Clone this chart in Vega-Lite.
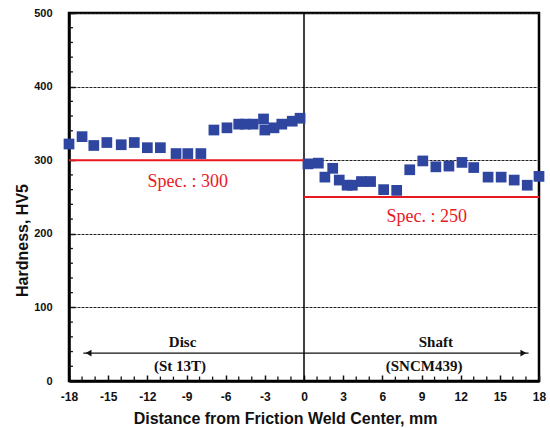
{
  "$schema": "https://vega.github.io/schema/vega-lite/v6.json",
  "width": 470,
  "height": 368,
  "autosize": "none",
  "padding": {"left": 69, "top": 13, "right": 11, "bottom": 47},
  "background": "white",
  "config": {
    "locale": {"number": {"decimal": ".", "thousands": ",", "grouping": [3], "currency": ["$", ""], "minus": "-"}},
    "view": {"stroke": "black", "strokeWidth": 2.5},
    "axis": {"labelFont": "Liberation Sans", "titleFont": "Liberation Sans", "labelFontWeight": "bold", "titleFontWeight": "bold", "labelColor": "#111", "titleColor": "#111", "grid": false}
  },
  "datasets": {
    "pts": [
      {"x": -18, "y": 322}, {"x": -17, "y": 332}, {"x": -16.1, "y": 320}, {"x": -15.1, "y": 324},
      {"x": -14, "y": 321}, {"x": -13, "y": 324}, {"x": -12, "y": 317}, {"x": -11, "y": 317},
      {"x": -9.8, "y": 309}, {"x": -8.9, "y": 309}, {"x": -7.9, "y": 309}, {"x": -6.9, "y": 341},
      {"x": -5.9, "y": 344}, {"x": -5, "y": 349}, {"x": -4.5, "y": 349}, {"x": -3.9, "y": 349},
      {"x": -3.1, "y": 356}, {"x": -3, "y": 341}, {"x": -2.3, "y": 344}, {"x": -1.7, "y": 349},
      {"x": -0.9, "y": 353}, {"x": -0.3, "y": 357},
      {"x": 0.3, "y": 295}, {"x": 1.1, "y": 296}, {"x": 1.6, "y": 277}, {"x": 2.2, "y": 289},
      {"x": 2.7, "y": 273}, {"x": 3.3, "y": 266}, {"x": 3.7, "y": 266}, {"x": 4.4, "y": 271},
      {"x": 5.1, "y": 271}, {"x": 6.1, "y": 260}, {"x": 7.1, "y": 259}, {"x": 8.1, "y": 287},
      {"x": 9.1, "y": 299}, {"x": 10.1, "y": 291}, {"x": 11.1, "y": 292}, {"x": 12.1, "y": 297},
      {"x": 13, "y": 290}, {"x": 14.1, "y": 277}, {"x": 15.1, "y": 277}, {"x": 16.1, "y": 273},
      {"x": 17.1, "y": 266}, {"x": 18, "y": 278}
    ],
    "spec": [
      {"x": -18, "x2": 0, "y": 300, "label": "Spec. : 300", "lx": -8.9, "ly": 270},
      {"x": 0, "x2": 18, "y": 250, "label": "Spec. : 250", "lx": 9.4, "ly": 223}
    ],
    "zero": [{"x": 0, "y": 0, "y2": 500}],
    "arrow": [{"x": -16.9, "x2": 17.2, "y": 38}],
    "heads": [{"x": -16.5, "y": 38, "shape": "triangle-left"}, {"x": 16.8, "y": 38, "shape": "triangle-right"}],
    "mat": [
      {"x": -9.3, "y": 53, "label": "Disc"},
      {"x": -9.5, "y": 21, "label": "(St 13T)"},
      {"x": 10.1, "y": 53, "label": "Shaft"},
      {"x": 9.2, "y": 21, "label": "(SNCM439)"}
    ],
    "minorx": [
      {"x": -17}, {"x": -16}, {"x": -14}, {"x": -13}, {"x": -11}, {"x": -10}, {"x": -8}, {"x": -7},
      {"x": -5}, {"x": -4}, {"x": -2}, {"x": -1}, {"x": 1}, {"x": 2}, {"x": 4}, {"x": 5},
      {"x": 7}, {"x": 8}, {"x": 10}, {"x": 11}, {"x": 13}, {"x": 14}, {"x": 16}, {"x": 17}
    ],
    "minory": [
      {"y": 20}, {"y": 40}, {"y": 60}, {"y": 80}, {"y": 120}, {"y": 140}, {"y": 160}, {"y": 180},
      {"y": 220}, {"y": 240}, {"y": 260}, {"y": 280}, {"y": 320}, {"y": 340}, {"y": 360}, {"y": 380},
      {"y": 420}, {"y": 440}, {"y": 460}, {"y": 480}
    ]
  },
  "resolve": {"axis": {"x": "independent", "y": "independent"}},
  "layer": [
    {
      "data": {"name": "zero"},
      "mark": {"type": "rule", "color": "black", "strokeWidth": 1.5},
      "encoding": {
        "x": {"field": "x", "type": "quantitative", "scale": {"domain": [-18, 18], "nice": false},
              "axis": {"orient": "bottom", "values": [-18,-15,-12,-9,-6,-3,0,3,6,9,12,15,18], "format": "d",
                       "title": "Distance from Friction Weld Center, mm", "titleFontSize": 16, "titleX": 216, "titleY": 42, "titleAlign": "center", "titleBaseline": "alphabetic",
                       "labelFontSize": 12, "labelPadding": 16, "labelFlush": false,
                       "tickSize": -6, "tickWidth": 1.5, "tickColor": "#111", "domainColor": "black", "domainWidth": 2.5}},
        "y": {"field": "y", "type": "quantitative", "scale": {"domain": [0, 500], "nice": false},
              "axis": {"orient": "left", "values": [0,100,200,300,400,500],
                       "title": "Hardness, HV5", "titleFontSize": 16, "titleX": -47, "titleY": 227, "titleAngle": -90, "titleBaseline": "middle", "titleAlign": "center",
                       "labelFontSize": 11, "labelPadding": 23, "labelFlush": false,
                       "tickSize": -6, "tickWidth": 1.5, "tickColor": "#111", "domainColor": "black", "domainWidth": 2.5,
                       "grid": true, "gridColor": "#222", "gridDash": [3, 1], "gridWidth": 1.2}},
        "y2": {"field": "y2"}
      }
    },
    {
      "data": {"name": "minorx"},
      "mark": {"type": "rule", "strokeWidth": 1.3, "color": "#111"},
      "encoding": {"x": {"field": "x", "type": "quantitative", "axis": null}, "y": {"datum": 0, "type": "quantitative", "axis": null}, "y2": {"datum": 6}}
    },
    {
      "data": {"name": "minory"},
      "mark": {"type": "rule", "strokeWidth": 1.3, "color": "#111"},
      "encoding": {"y": {"field": "y", "type": "quantitative", "axis": null}, "x": {"datum": -18, "type": "quantitative", "axis": null}, "x2": {"datum": -17.7}}
    },
    {
      "data": {"name": "pts"},
      "mark": {"type": "point", "shape": "square", "filled": true, "opacity": 1, "size": 115, "color": "#2f46a0"},
      "encoding": {"x": {"field": "x", "type": "quantitative", "axis": null}, "y": {"field": "y", "type": "quantitative", "axis": null}}
    },
    {
      "data": {"name": "spec"},
      "mark": {"type": "rule", "color": "#e8191f", "strokeWidth": 2},
      "encoding": {"x": {"field": "x", "type": "quantitative", "axis": null}, "x2": {"field": "x2"}, "y": {"field": "y", "type": "quantitative", "axis": null}}
    },
    {
      "data": {"name": "spec"},
      "mark": {"type": "text", "font": "Liberation Serif", "fontSize": 18, "color": "#e8191f", "baseline": "middle", "align": "center"},
      "encoding": {"x": {"field": "lx", "type": "quantitative", "axis": null}, "y": {"field": "ly", "type": "quantitative", "axis": null}, "text": {"field": "label"}}
    },
    {
      "data": {"name": "arrow"},
      "mark": {"type": "rule", "color": "#111", "strokeWidth": 1.2},
      "encoding": {"x": {"field": "x", "type": "quantitative", "axis": null}, "x2": {"field": "x2"}, "y": {"field": "y", "type": "quantitative", "axis": null}}
    },
    {
      "data": {"name": "heads"},
      "mark": {"type": "point", "filled": true, "opacity": 1, "color": "#111", "size": 45},
      "encoding": {"x": {"field": "x", "type": "quantitative", "axis": null}, "y": {"field": "y", "type": "quantitative", "axis": null}, "shape": {"field": "shape", "type": "nominal", "scale": null}}
    },
    {
      "data": {"name": "mat"},
      "mark": {"type": "text", "font": "Liberation Serif", "fontWeight": "bold", "fontSize": 15, "color": "#111", "baseline": "middle", "align": "center"},
      "encoding": {"x": {"field": "x", "type": "quantitative", "axis": null}, "y": {"field": "y", "type": "quantitative", "axis": null}, "text": {"field": "label"}}
    }
  ]
}
